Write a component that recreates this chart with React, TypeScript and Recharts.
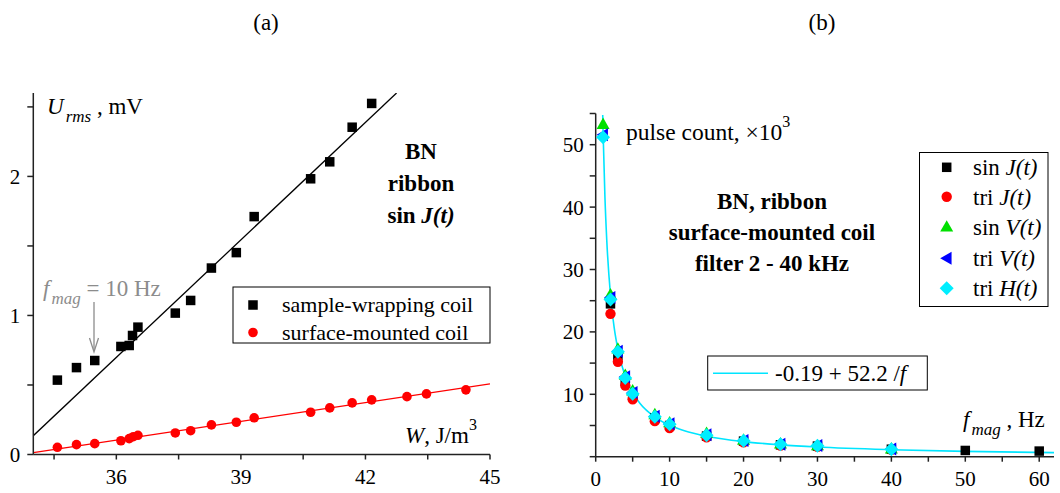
import { ComposedChart, Scatter, Line, XAxis, YAxis } from 'recharts'

// ---- panel (a): U_rms vs W ----
const sampleW = [34.58, 35.04, 35.48, 36.11, 36.31, 36.39, 36.52, 37.42, 37.79, 38.29, 38.89, 39.32, 40.68, 41.14, 41.68, 42.15]
const sampleU = [0.535, 0.625, 0.676, 0.777, 0.784, 0.856, 0.916, 1.017, 1.108, 1.341, 1.452, 1.711, 1.983, 2.105, 2.354, 2.525]
const surfaceW = [34.58, 35.04, 35.48, 36.11, 36.31, 36.41, 36.52, 37.42, 37.79, 38.29, 38.89, 39.32, 40.68, 41.14, 41.68, 42.15, 43.0, 43.47, 44.42]
const surfaceU = [0.052, 0.071, 0.078, 0.099, 0.114, 0.128, 0.138, 0.155, 0.171, 0.213, 0.232, 0.264, 0.304, 0.335, 0.371, 0.393, 0.416, 0.436, 0.465]
// fitted straight lines (end points)
const sampleFitW = [34, 42.75]
const sampleFitU = [0.135, 2.6]
const surfaceFitW = [34, 45]
const surfaceFitU = [0.013, 0.508]
const wTicks = [34.5, 36, 37.5, 39, 40.5, 42, 43.5, 45]
const uTicks = [0, 0.5, 1, 1.5, 2, 2.5]

// ---- panel (b): pulse count vs f_mag ----
const sinJF = [2, 3, 4, 5, 8, 10, 15, 20, 25, 30, 40, 50, 60]
const sinJ = [24.5, 16.2, 12.2, 9.8, 6.2, 5.0, 3.3, 2.5, 1.9, 1.7, 1.2, 1.0, 0.9]
const triJF = [2, 3, 4, 5, 8, 10, 15, 20, 25, 30, 40]
const triJ = [22.9, 15.2, 11.4, 9.2, 5.7, 4.6, 3.1, 2.3, 1.8, 1.6, 1.1]
const vhF = [1, 2, 3, 4, 5, 8, 10, 15, 20, 25, 30, 40]
const sinV = [53.3, 26.0, 17.3, 13.1, 10.6, 6.8, 5.5, 3.8, 2.7, 2.1, 1.8, 1.3]
const triV = [51.6, 25.5, 16.9, 12.8, 10.3, 6.5, 5.3, 3.5, 2.6, 2.0, 1.8, 1.25]
const triH = [51.2, 25.2, 16.8, 12.6, 10.1, 6.4, 5.2, 3.45, 2.55, 2.0, 1.75, 1.2]
// fit curve -0.19 + 52.2/f
const fitF = [0.95, 1, 1.25, 1.5, 2, 2.5, 3, 4, 5, 6, 8, 10, 12, 15, 20, 25, 30, 40, 50, 62]
const fitN = [54.76, 52.01, 41.57, 34.61, 25.91, 20.69, 17.21, 12.86, 10.25, 8.51, 6.34, 5.03, 4.16, 3.29, 2.42, 1.9, 1.55, 1.12, 0.85, 0.65]
const fTicks = [0, 5, 10, 15, 20, 25, 30, 35, 40, 45, 50, 55, 60]
const nTicks = [0, 5, 10, 15, 20, 25, 30, 35, 40, 45, 50, 55]

const zip = (xs: number[], ys: number[]) => xs.map((x, i) => ({ x, y: ys[i] }))

const FONT = '"Liberation Serif", "Times New Roman", serif'
const AXIS = '#222'

const square = (s: number, fill: string) => (p: any) => (
  <rect x={p.cx - s / 2} y={p.cy - s / 2} width={s} height={s} fill={fill} />
)
const circle = (r: number, fill: string) => (p: any) => <circle cx={p.cx} cy={p.cy} r={r} fill={fill} />
const triUp = (s: number, fill: string) => (p: any) => (
  <polygon points={`${p.cx},${p.cy - s} ${p.cx - s},${p.cy + s * 0.75} ${p.cx + s},${p.cy + s * 0.75}`} fill={fill} />
)
const triLeft = (s: number, fill: string) => (p: any) => (
  <polygon points={`${p.cx - s},${p.cy} ${p.cx + s * 0.75},${p.cy - s} ${p.cx + s * 0.75},${p.cy + s}`} fill={fill} />
)
const diamond = (s: number, fill: string) => (p: any) => (
  <polygon points={`${p.cx},${p.cy - s} ${p.cx + s},${p.cy} ${p.cx},${p.cy + s} ${p.cx - s},${p.cy}`} fill={fill} />
)

const tickStyle = { fontSize: 21, fontFamily: FONT, fill: '#000' }

function PanelA() {
  return (
    <ComposedChart width={530} height={493} margin={{ top: 93, right: 40, bottom: 8.5, left: 0 }}>
      <XAxis
        type="number"
        dataKey="x"
        domain={[34, 45]}
        ticks={wTicks}
        interval={0}
        tickFormatter={(v) => (v % 3 === 0 ? String(v) : '')}
        height={30}
        tickSize={5}
        tickMargin={10}
        tick={tickStyle}
        stroke={AXIS}
        strokeWidth={1.5}
        allowDataOverflow
      />
      <YAxis
        type="number"
        dataKey="y"
        domain={[0, 2.6]}
        ticks={uTicks}
        interval={0}
        tickFormatter={(v) => (Number.isInteger(v) ? String(v) : '')}
        width={33.3}
        tickSize={6}
        tickMargin={7}
        tick={tickStyle}
        stroke={AXIS}
        strokeWidth={1.5}
        allowDataOverflow
      />
      <Line data={zip(sampleFitW, sampleFitU)} dataKey="y" type="linear" stroke="#000" strokeWidth={1.3} dot={false} isAnimationActive={false} />
      <Line data={zip(surfaceFitW, surfaceFitU)} dataKey="y" type="linear" stroke="#ff0000" strokeWidth={1.3} dot={false} isAnimationActive={false} />
      <Scatter data={zip(sampleW, sampleU)} dataKey="y" shape={square(9.5, '#000')} isAnimationActive={false} />
      <Scatter data={zip(surfaceW, surfaceU)} dataKey="y" shape={circle(4.8, '#ff0000')} isAnimationActive={false} />
    </ComposedChart>
  )
}

function PanelB() {
  return (
    <ComposedChart width={530} height={493} margin={{ top: 113.5, right: 6, bottom: 6.3, left: 0 }}>
      <XAxis
        type="number"
        dataKey="x"
        domain={[0, 62]}
        ticks={fTicks}
        interval={0}
        tickFormatter={(v) => (v % 10 === 0 ? String(v) : '')}
        height={30}
        tickSize={5}
        tickMargin={9}
        tick={tickStyle}
        stroke={AXIS}
        strokeWidth={1.5}
        allowDataOverflow
      />
      <YAxis
        type="number"
        dataKey="y"
        domain={[0, 55]}
        ticks={nTicks}
        interval={0}
        tickFormatter={(v) => (v % 10 === 0 && v > 0 ? String(v) : '')}
        width={65.7}
        tickSize={6}
        tickMargin={6}
        tick={tickStyle}
        stroke={AXIS}
        strokeWidth={1.5}
        allowDataOverflow
      />
      <Line data={zip(fitF, fitN)} dataKey="y" type="monotone" stroke="#00e5ff" strokeWidth={1.6} dot={false} isAnimationActive={false} />
      <Scatter data={zip(sinJF, sinJ)} dataKey="y" shape={square(9.5, '#000')} isAnimationActive={false} />
      <Scatter data={zip(triJF, triJ)} dataKey="y" shape={circle(5.2, '#ff0000')} isAnimationActive={false} />
      <Scatter data={zip(vhF, sinV)} dataKey="y" shape={triUp(6.5, '#00e000')} isAnimationActive={false} />
      <Scatter data={zip(vhF, triV)} dataKey="y" shape={triLeft(6.5, '#0000ff')} isAnimationActive={false} />
      <Scatter data={zip(vhF, triH)} dataKey="y" shape={diamond(7, '#00eeff')} isAnimationActive={false} />
    </ComposedChart>
  )
}

function Overlay() {
  const t = { fontFamily: FONT, fontSize: 23, fill: '#000' }
  const legendB: [string, string, (p: any) => any][] = [
    ['sin ', 'J(t)', square(9.5, '#000')],
    ['tri ', 'J(t)', circle(5.2, '#ff0000')],
    ['sin ', 'V(t)', triUp(6.5, '#00e000')],
    ['tri ', 'V(t)', triLeft(6.5, '#0000ff')],
    ['tri ', 'H(t)', diamond(7, '#00eeff')],
  ]
  const legendY = [167.3, 196.7, 226.7, 258.3, 288.3]
  const gray = '#8c8c8c'
  return (
    <svg width={1060} height={493} style={{ position: 'absolute', left: 0, top: 0, pointerEvents: 'none' }}>
      <text x={266} y={30} textAnchor="middle" {...t}>(a)</text>
      <text x={822} y={30} textAnchor="middle" {...t}>(b)</text>

      {/* panel (a) labels */}
      <text x={47} y={114} {...t}>
        <tspan fontStyle="italic">U</tspan>
        <tspan fontStyle="italic" fontSize={17} dx={2} dy={8}>rms</tspan>
        <tspan dy={-8}> , mV</tspan>
      </text>
      <text x={421} y={159} {...t} fontWeight="bold" textAnchor="middle">BN</text>
      <text x={421} y={191} {...t} fontWeight="bold" textAnchor="middle">ribbon</text>
      <text x={421} y={223} {...t} fontWeight="bold" textAnchor="middle">
        sin <tspan fontStyle="italic">J(t)</tspan>
      </text>
      <text x={43} y={296} {...t} fill={gray}>
        <tspan fontStyle="italic">f</tspan>
        <tspan fontStyle="italic" fontSize={17} dx={2} dy={8}>mag</tspan>
        <tspan dy={-8}> = 10 Hz</tspan>
      </text>
      <line x1={94} y1={302} x2={94} y2={351} stroke={gray} strokeWidth={1.3} />
      <polyline points="89.5,338 94,352 98.5,338" fill="none" stroke={gray} strokeWidth={1.3} />
      <text x={405} y={443} {...t}>
        <tspan fontStyle="italic">W</tspan>, J/m
        <tspan fontSize={16} dy={-13}>3</tspan>
      </text>
      <rect x={233} y={287} width={257} height={56} fill="#fff" stroke="#000" strokeWidth={1} />
      <rect x={248.25} y={300.25} width={9.5} height={9.5} fill="#000" />
      <text x={282} y={312} {...t} fontSize={22}>sample-wrapping coil</text>
      <circle cx={253} cy={332.5} r={4.8} fill="#ff0000" />
      <text x={282} y={340} {...t} fontSize={22}>surface-mounted coil</text>

      {/* panel (b) labels */}
      <text x={626} y={140} {...t} fontSize={23.5}>
        pulse count, ×10
        <tspan fontSize={16} dy={-13}>3</tspan>
      </text>
      <text x={772} y={209} {...t} fontWeight="bold" textAnchor="middle">BN, ribbon</text>
      <text x={772} y={240} {...t} fontWeight="bold" textAnchor="middle">surface-mounted coil</text>
      <text x={772} y={271} {...t} fontWeight="bold" textAnchor="middle">filter 2 - 40 kHz</text>
      <text x={963} y={427} {...t}>
        <tspan fontStyle="italic">f</tspan>
        <tspan fontStyle="italic" fontSize={17} dx={2} dy={8}>mag</tspan>
        <tspan dy={-8}> , Hz</tspan>
      </text>

      <rect x={919.5} y={152.5} width={128.5} height={154} fill="#fff" stroke="#000" strokeWidth={1} />
      {legendB.map(([a, b, shape], i) => (
        <g key={i}>
          {shape({ cx: 946.7, cy: legendY[i] })}
          <text x={973} y={legendY[i] + 8} {...t}>
            {a}
            <tspan fontStyle="italic">{b}</tspan>
          </text>
        </g>
      ))}

      <rect x={707.7} y={356} width={219.6} height={34} fill="#fff" stroke="#000" strokeWidth={1} />
      <line x1={713} y1={373.3} x2={768} y2={373.3} stroke="#00e5ff" strokeWidth={1.6} />
      <text x={775} y={381} {...t}>
        -0.19 + 52.2 /<tspan fontStyle="italic">f</tspan>
      </text>
    </svg>
  )
}

export default function App() {
  return (
    <div style={{ position: 'absolute', left: 0, top: 0, width: 1060, height: 493, background: '#fff', fontFamily: FONT }}>
      <div style={{ position: 'absolute', left: 0, top: 0 }}>
        <PanelA />
      </div>
      <div style={{ position: 'absolute', left: 530, top: 0 }}>
        <PanelB />
      </div>
      <Overlay />
    </div>
  )
}
